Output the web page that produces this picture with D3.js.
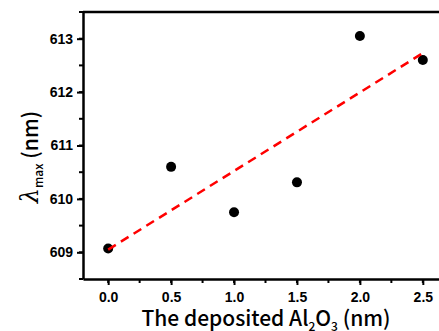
<!DOCTYPE html>
<html>
<head>
<meta charset="utf-8">
<script src="https://cdn.jsdelivr.net/npm/d3@7"></script>
<style>
body { margin: 0; background: #fff; }
svg { display: block; }
</style>
</head>
<body>
<script>
// Al2O3 thickness (nm) vs peak wavelength
var thickness = [0.0, 0.5, 1.0, 1.5, 2.0, 2.5];
var lambdaMax = [609.07, 610.6, 609.75, 610.31, 613.05, 612.6];
// linear fit ends
var fitX = [0.0, 2.5];
var fitY = [609.05, 612.73];
var xTicks = [0, 0.5, 1.0, 1.5, 2.0, 2.5];
var yTicks = [609, 610, 611, 612, 613];

var w = 439;
var h = 331;
var padL = 83, padT = 12, padB = 279, padR = 448;

var svg = d3.select("body")
            .append("svg")
            .attr("width", w)
            .attr("height", h);

var x = d3.scaleLinear().domain([-0.2, 2.7]).range([padL, padR]);
var y = d3.scaleLinear().domain([608.5, 613.5]).range([padB, padT]);

// minor ticks
var xMinor = d3.range(-0.25, 2.76, 0.25).filter(function(d){ return d > -0.2 && d < 2.7; });
var yMinor = d3.range(608.5, 613.6, 0.5);

svg.selectAll("line.xminor")
   .data(xMinor)
   .enter()
   .append("line")
   .attr("x1", function(d){ return x(d); })
   .attr("x2", function(d){ return x(d); })
   .attr("y1", padB)
   .attr("y2", padB + 4)
   .attr("stroke", "#000")
   .attr("stroke-width", 2);

svg.selectAll("line.yminor")
   .data(yMinor)
   .enter()
   .append("line")
   .attr("x1", padL)
   .attr("x2", padL - 4)
   .attr("y1", function(d){ return y(d); })
   .attr("y2", function(d){ return y(d); })
   .attr("stroke", "#000")
   .attr("stroke-width", 2);

var xAxis = svg.append("g")
   .attr("transform", "translate(0," + padB + ")")
   .call(d3.axisBottom(x).tickValues(xTicks).tickFormat(d3.format(".1f")).tickSize(6).tickSizeOuter(0).tickPadding(7));

var yAxis = svg.append("g")
   .attr("transform", "translate(" + padL + ",0)")
   .call(d3.axisLeft(y).tickValues(yTicks).tickFormat(d3.format("d")).tickSize(6).tickSizeOuter(0).tickPadding(4));

[xAxis, yAxis].forEach(function(g){
  g.select(".domain").attr("stroke-width", 2.5);
  g.selectAll(".tick line").attr("stroke-width", 2);
  g.selectAll(".tick text")
   .attr("font-family", "Liberation Sans, Arial, sans-serif")
   .attr("font-weight", "bold")
   .attr("font-size", 14)
   .attr("fill", "#000");
});

// top frame
svg.append("line")
   .attr("x1", padL).attr("x2", w)
   .attr("y1", padT).attr("y2", padT)
   .attr("stroke", "#000")
   .attr("stroke-width", 2.5);

// points
svg.selectAll("circle")
   .data(thickness)
   .enter()
   .append("circle")
   .attr("cx", function(d){ return x(d); })
   .attr("cy", function(d, i){ return y(lambdaMax[i]); })
   .attr("r", 5)
   .attr("fill", "#000");

// fit line
svg.append("path")
   .datum(fitX)
   .attr("d", d3.line()
      .x(function(d){ return x(d); })
      .y(function(d, i){ return y(fitY[i]); }))
   .attr("fill", "none")
   .attr("stroke", "#ff0000")
   .attr("stroke-width", 2.5)
   .attr("stroke-dasharray", "9,6");

// axis titles
var xt = svg.append("text")
   .attr("x", 266)
   .attr("y", 326)
   .attr("text-anchor", "middle")
   .attr("font-family", "Noto Sans CJK JP, sans-serif")
   .attr("font-weight", "500")
   .attr("font-size", 21)
   .attr("fill", "#000");
xt.append("tspan").text("The deposited Al");
xt.append("tspan").text("2").attr("font-size", 12).attr("dy", 5);
xt.append("tspan").text("O").attr("dy", -5);
xt.append("tspan").text("3").attr("font-size", 12).attr("dy", 5);
xt.append("tspan").text(" (nm)").attr("dy", -5);

var yt = svg.append("text")
   .attr("transform", "translate(38,157) rotate(-90)")
   .attr("text-anchor", "middle")
   .attr("font-family", "Noto Sans CJK JP, sans-serif")
   .attr("font-weight", "500")
   .attr("font-size", 21)
   .attr("fill", "#000");
yt.append("tspan").text("λ").attr("font-style", "italic").attr("font-family", "DejaVu Serif, serif").attr("font-size", 24);
yt.append("tspan").text("max").attr("font-size", 12).attr("dy", 5);
yt.append("tspan").text(" (nm)").attr("dy", -5);
</script>
</body>
</html>
